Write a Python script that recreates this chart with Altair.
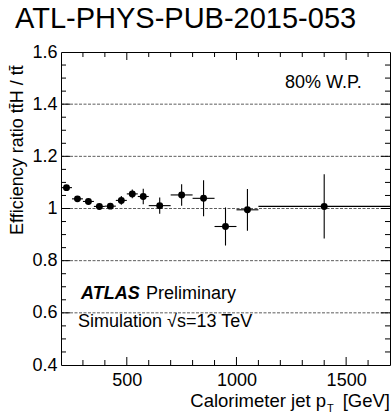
import altair as alt
import pandas as pd

# ---- data ----
bin_lo = [200, 250, 300, 350, 400, 450, 500, 550, 600, 700, 800, 900, 1000, 1100]
bin_hi = [250, 300, 350, 400, 450, 500, 550, 600, 700, 800, 900, 1000, 1100, 1700]
ratio = [1.080, 1.037, 1.027, 1.008, 1.009, 1.031, 1.056, 1.046, 1.011, 1.052, 1.039, 0.931, 0.995, 1.008]
err = [0.008, 0.006, 0.007, 0.007, 0.008, 0.017, 0.017, 0.030, 0.031, 0.041, 0.069, 0.073, 0.080, 0.123]

x_labels = [500, 1000, 1500]
x_major = [500, 1000, 1500]
x_minor = [300, 400, 600, 700, 800, 900, 1100, 1200, 1300, 1400, 1600]
y_labels = [0.4, 0.6, 0.8, 1.0, 1.2, 1.4, 1.6]
y_major = [0.6, 0.8, 1.0, 1.2, 1.4]
y_minor = [0.45, 0.5, 0.55, 0.65, 0.7, 0.75, 0.85, 0.9, 0.95, 1.05, 1.1, 1.15,
           1.25, 1.3, 1.35, 1.45, 1.5, 1.55]
grid_y = [0.6, 0.8, 1.0, 1.2, 1.4]

W, H = 329, 313
FONT = "Liberation Sans"

df = pd.DataFrame({"lo": bin_lo, "hi": bin_hi, "ratio": ratio, "err": err})

xscale = alt.Scale(domain=[200, 1700], nice=False, zero=False)
yscale = alt.Scale(domain=[0.4, 1.6], nice=False, zero=False)
xaxis = alt.Axis(values=x_labels, ticks=False, tickSize=0, domain=False, grid=False, format="d",
                 labelFontSize=18, labelPadding=6, labelColor="black", labelFont=FONT, title=None)
yaxis = alt.Axis(values=y_labels, ticks=False, tickSize=0, domain=False, grid=False,
                 labelFontSize=18, labelPadding=4, labelColor="black", labelFont=FONT, title=None,
                 labelExpr="datum.value == 1 ? '1' : format(datum.value, '.1f')")

base = alt.Chart(df).transform_calculate(
    xc="(datum.lo + datum.hi) / 2",
    ylo="datum.ratio - datum.err",
    yhi="datum.ratio + datum.err",
)

grid = alt.Chart(pd.DataFrame({"g": grid_y})).mark_rule(
    color="#333", strokeWidth=0.8, strokeDash=[3, 1.5]
).encode(y=alt.Y("g:Q", scale=yscale, axis=yaxis), x=alt.value(0), x2=alt.value(W))

xerr = base.mark_rule(color="black", strokeWidth=1.1).encode(
    x=alt.X("lo:Q", scale=xscale, axis=xaxis), x2="hi:Q",
    y=alt.Y("ratio:Q", scale=yscale, axis=yaxis))
yerr = base.mark_rule(color="black", strokeWidth=1.1).encode(
    x=alt.X("xc:Q", scale=xscale, axis=xaxis),
    y=alt.Y("ylo:Q", scale=yscale, axis=yaxis), y2="yhi:Q")
pts = base.mark_circle(color="black", opacity=1, size=48).encode(
    x=alt.X("xc:Q", scale=xscale, axis=xaxis),
    y=alt.Y("ratio:Q", scale=yscale, axis=yaxis))

def xticks(vals, length):
    d = alt.Chart(pd.DataFrame({"t": vals}))
    bot = d.mark_rule(color="black", strokeWidth=1).encode(
        x=alt.X("t:Q", scale=xscale, axis=xaxis), y=alt.value(H), y2=alt.value(H - length))
    top = d.mark_rule(color="black", strokeWidth=1).encode(
        x=alt.X("t:Q", scale=xscale, axis=xaxis), y=alt.value(0), y2=alt.value(length))
    return [bot, top]

def yticks(vals, length):
    d = alt.Chart(pd.DataFrame({"t": vals}))
    left = d.mark_rule(color="black", strokeWidth=1).encode(
        y=alt.Y("t:Q", scale=yscale, axis=yaxis), x=alt.value(0), x2=alt.value(length))
    right = d.mark_rule(color="black", strokeWidth=1).encode(
        y=alt.Y("t:Q", scale=yscale, axis=yaxis), x=alt.value(W), x2=alt.value(W - length))
    return [left, right]

one = alt.Data(values=[{}])

def txt(s, x, y, size=18, align="left", weight="normal", style="normal", angle=0, baseline="alphabetic"):
    kw = dict(align=align, baseline=baseline, fontSize=size, font=FONT, color="black",
              fontWeight=weight, fontStyle=style)
    if angle:
        kw["angle"] = angle
    return alt.Chart(one).mark_text(**kw).encode(x=alt.value(x), y=alt.value(y), text=alt.value(s))

texts = [
    txt("ATL-PHYS-PUB-2015-053", -46, -24, size=29),
    txt("Efficiency ratio tt\u0304H / tt\u0304", -38, 183, size=18, angle=270),
    txt("80% W.P.", 224, 36, size=18),
    txt("ATLAS", 20, 247, size=18, weight="bold", style="italic"),
    txt("Preliminary", 85, 247, size=18),
    txt("Simulation \u221as=13 TeV", 17, 275, size=18),
    txt("Calorimeter jet p", 265, 355, size=18.5, align="right"),
    txt("T", 266, 360, size=11),
    txt("[GeV]", 329, 355, size=18.5, align="right"),
]

layers = [grid] + xticks(x_major, 8) + xticks(x_minor, 5) + yticks(y_major, 9) + yticks(y_minor, 5) \
    + [xerr, yerr, pts] + texts

chart = alt.layer(*layers).properties(
    width=W, height=H,
    autosize=alt.AutoSizeParams(type="none"),
    padding={"left": 61, "top": 52, "right": 2, "bottom": 55},
    background="white",
).configure_view(stroke="black", strokeWidth=1)

chart.save("out.html", embed_options={"renderer": "svg", "actions": False})
